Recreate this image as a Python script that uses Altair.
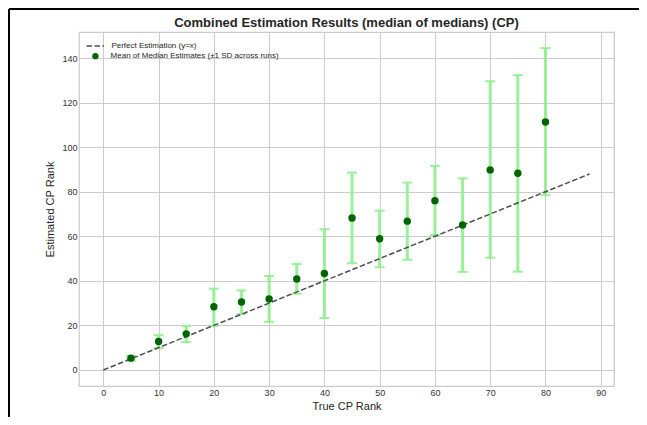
import altair as alt
import pandas as pd

# ---- data ----
true_rank = [5, 10, 15, 20, 25, 30, 35, 40, 45, 50, 55, 60, 65, 70, 75, 80]
mean_est = [5.3, 12.8, 16.2, 28.4, 30.5, 31.9, 40.8, 43.3, 68.2, 58.9, 66.8, 76.0, 65.1, 89.8, 88.3, 111.3]
err_low = [4.3, 9.8, 12.5, 19.8, 25.1, 21.6, 34.2, 23.3, 47.9, 46.1, 49.5, 60.5, 44.0, 50.4, 44.1, 78.4]
err_high = [6.3, 15.6, 19.8, 36.5, 35.7, 42.2, 47.6, 63.2, 88.6, 71.5, 84.1, 91.6, 86.0, 129.6, 132.3, 144.5]
ideal_x = [0, 88]

TITLE = "Combined Estimation Results (median of medians) (CP)"
LINE_LABEL = "Perfect Estimation (y=x)"
PT_LABEL = "Mean of Median Estimates (±1 SD across runs)"

pts = pd.DataFrame({"x": true_rank, "y": mean_est, "lo": err_low, "hi": err_high,
                    "s": [PT_LABEL] * len(true_rank)})
ideal = pd.DataFrame({"x": ideal_x, "y": ideal_x, "s": [LINE_LABEL] * len(ideal_x)})

W, H = 535, 354
FONT = "Liberation Sans"

xs = alt.Scale(domain=[-4.4, 92.4], nice=False, zero=False)
ys = alt.Scale(domain=[-7.2, 151.7], nice=False, zero=False)

xax = alt.Axis(title="True CP Rank", values=list(range(0, 91, 10)), grid=True)
yax = alt.Axis(title="Estimated CP Rank", values=list(range(0, 141, 20)), grid=True)

line = alt.Chart(ideal).mark_line(color="#4d4d4d", strokeWidth=1.5, strokeDash=[5.5, 2.4]).encode(
    x=alt.X("x:Q", scale=xs, axis=xax),
    y=alt.Y("y:Q", scale=ys, axis=yax),
    strokeDash=alt.StrokeDash("s:N", scale=alt.Scale(domain=[LINE_LABEL], range=[[5.5, 2.4]]),
                              legend=alt.Legend(title=None, orient="none", legendX=4.7, legendY=2.4,
                                                symbolType="stroke",
                                                symbolStrokeColor="#4d4d4d", symbolStrokeWidth=1.5,
                                                symbolSize=300, labelOffset=6.7)),
)

bars = alt.Chart(pts).mark_rule(color="#90ee90", strokeWidth=3, opacity=0.9).encode(
    x=alt.X("x:Q", scale=xs), y=alt.Y("lo:Q", scale=ys), y2="hi:Q")

cap_lo = alt.Chart(pts).mark_tick(color="#90ee90", orient="horizontal", size=10, thickness=2, opacity=0.9).encode(
    x=alt.X("x:Q", scale=xs), y=alt.Y("lo:Q", scale=ys))
cap_hi = alt.Chart(pts).mark_tick(color="#90ee90", orient="horizontal", size=10, thickness=2, opacity=0.9).encode(
    x=alt.X("x:Q", scale=xs), y=alt.Y("hi:Q", scale=ys))

dots = alt.Chart(pts).mark_point(filled=True, size=55, opacity=1).encode(
    x=alt.X("x:Q", scale=xs), y=alt.Y("y:Q", scale=ys),
    color=alt.Color("s:N", scale=alt.Scale(domain=[PT_LABEL], range=["#006400"]),
                    legend=alt.Legend(title=None, orient="none", legendX=10.45, legendY=18.15,
                                      symbolType="circle", symbolSize=40, labelOffset=11.15)),
)

title_df = pd.DataFrame({"t": [TITLE]})
title = alt.Chart(title_df).mark_text(font=FONT, fontSize=13, fontWeight="bold", color="#262626",
                                      align="center", baseline="alphabetic").encode(
    text="t:N", x=alt.value(W / 2), y=alt.value(-5))

border_df = pd.DataFrame({"k": [0]})
border_left = alt.Chart(border_df).mark_rule(color="black", strokeWidth=2).encode(
    x=alt.value(-70), y=alt.value(-23), y2=alt.value(H + 40))
border_top = alt.Chart(border_df).mark_rule(color="black", strokeWidth=2).encode(
    x=alt.value(-70), x2=alt.value(W + 30), y=alt.value(-23))

chart = alt.layer(bars, cap_lo, cap_hi, line, dots, title, border_left, border_top).resolve_legend(
    color="independent", strokeDash="independent"
).properties(
    width=W, height=H,
    padding={"left": 71, "top": 24, "right": 25, "bottom": 31},
    autosize=alt.AutoSizeParams(type="none"),
).configure_view(
    stroke="#cccccc", strokeWidth=1.25
).configure_axis(
    domain=False, ticks=False, gridColor="#cccccc", gridWidth=1,
    labelFont=FONT, labelFontSize=9, labelColor="#333333", labelPadding=2,
    titleFont=FONT, titleFontSize=11, titleFontWeight="normal", titleColor="#262626",
).configure_axisX(titlePadding=3).configure_axisY(titlePadding=6).configure_legend(
    labelFont=FONT, labelFontSize=8, labelColor="#262626", rowPadding=2, padding=2,
    labelLimit=400,
)

chart.save("out.html", embed_options={"renderer": "svg", "actions": False})
